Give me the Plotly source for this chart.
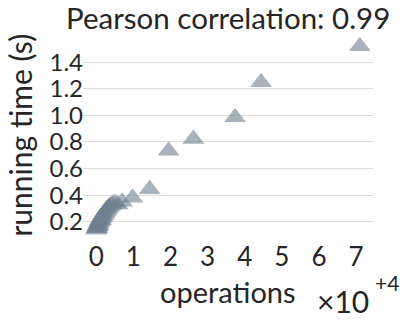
import plotly.graph_objects as go

# operations (raw counts) and running time in seconds
operations = [0, 100, 200, 300, 400, 500, 600, 800, 900, 1000, 1200, 1300, 1500,
              1700, 1900, 2100, 2300, 2600, 2800, 3100, 3400, 3800, 4300, 5000,
              5800, 7000, 9800, 14400, 19500, 26200, 37400, 44400, 71000]
running_time = [0.14, 0.15, 0.16, 0.15, 0.17, 0.18, 0.17, 0.19, 0.20, 0.21, 0.22,
                0.21, 0.23, 0.24, 0.25, 0.26, 0.27, 0.28, 0.29, 0.30, 0.31, 0.32,
                0.33, 0.34, 0.33, 0.35, 0.38, 0.445, 0.735, 0.823, 0.987, 1.25, 1.52]

x_tickvals = [0, 10000, 20000, 30000, 40000, 50000, 60000, 70000]
x_ticktext = ["0", "1", "2", "3", "4", "5", "6", "7"]
y_tickvals = [0.2, 0.4, 0.6, 0.8, 1.0, 1.2, 1.4]
y_ticktext = ["0.2", "0.4", "0.6", "0.8", "1.0", "1.2", "1.4"]

title_text = "Pearson correlation: 0.99"
x_title = "operations"
y_title = "running time (s)"
exp_base = "×10"
exp_power = "+4"

FONT = "Lato"
TXT = "#262626"

W, H = 409, 320
# plot area in page pixels
SX0, SX1, SY0, SY1 = 82.5, 373, 37, 239
L = SX0
T = SY0
R = W - SX1
B = H - SY1
plot_w = W - L - R
plot_h = H - T - B


def px_x(px):
    return (px - L) / plot_w


def px_y(py):
    return (H - B - py) / plot_h


fig = go.Figure(go.Scatter(
    x=operations, y=running_time, mode="markers",
    marker=dict(symbol="triangle-up", size=19, color="rgba(112,128,144,0.6)",
                line=dict(width=0)),
))


def ann(text, sx, sy, size, angle=0):
    return dict(text=text, x=px_x(sx), y=px_y(sy), xref="paper", yref="paper",
                xanchor="center", yanchor="middle", textangle=angle,
                showarrow=False, font=dict(size=size, color=TXT, family=FONT))


fig.update_layout(
    width=W, height=H,
    margin=dict(l=L, r=R, t=T, b=B, autoexpand=False),
    paper_bgcolor="white", plot_bgcolor="white",
    showlegend=False,
    font=dict(family=FONT, size=24, color=TXT),
    xaxis=dict(range=[-3550, 74550], tickvals=x_tickvals, ticktext=x_ticktext,
               showgrid=False, zeroline=False, showline=False, ticks="",
               automargin=False, tickfont=dict(size=26, color=TXT)),
    yaxis=dict(range=[0.07, 1.59], tickvals=y_tickvals, ticktext=y_ticktext,
               showgrid=True, gridcolor="#dcdcdc", gridwidth=1,
               zeroline=False, showline=False, ticks="", ticklabelstandoff=-1,
               automargin=False, tickfont=dict(size=24, color=TXT)),
    annotations=[
        ann(title_text, 228, 18, 29.5),
        ann(x_title, 228, 291, 29),
        ann(exp_base, 342.5, 301, 30),
        ann(exp_power, 387.5, 282, 21),
        ann(y_title, 19, 135, 30, angle=-90),
    ],
)

fig.write_html("out.html", config={"displayModeBar": False},
               post_script="document.body.style.margin='0';")
